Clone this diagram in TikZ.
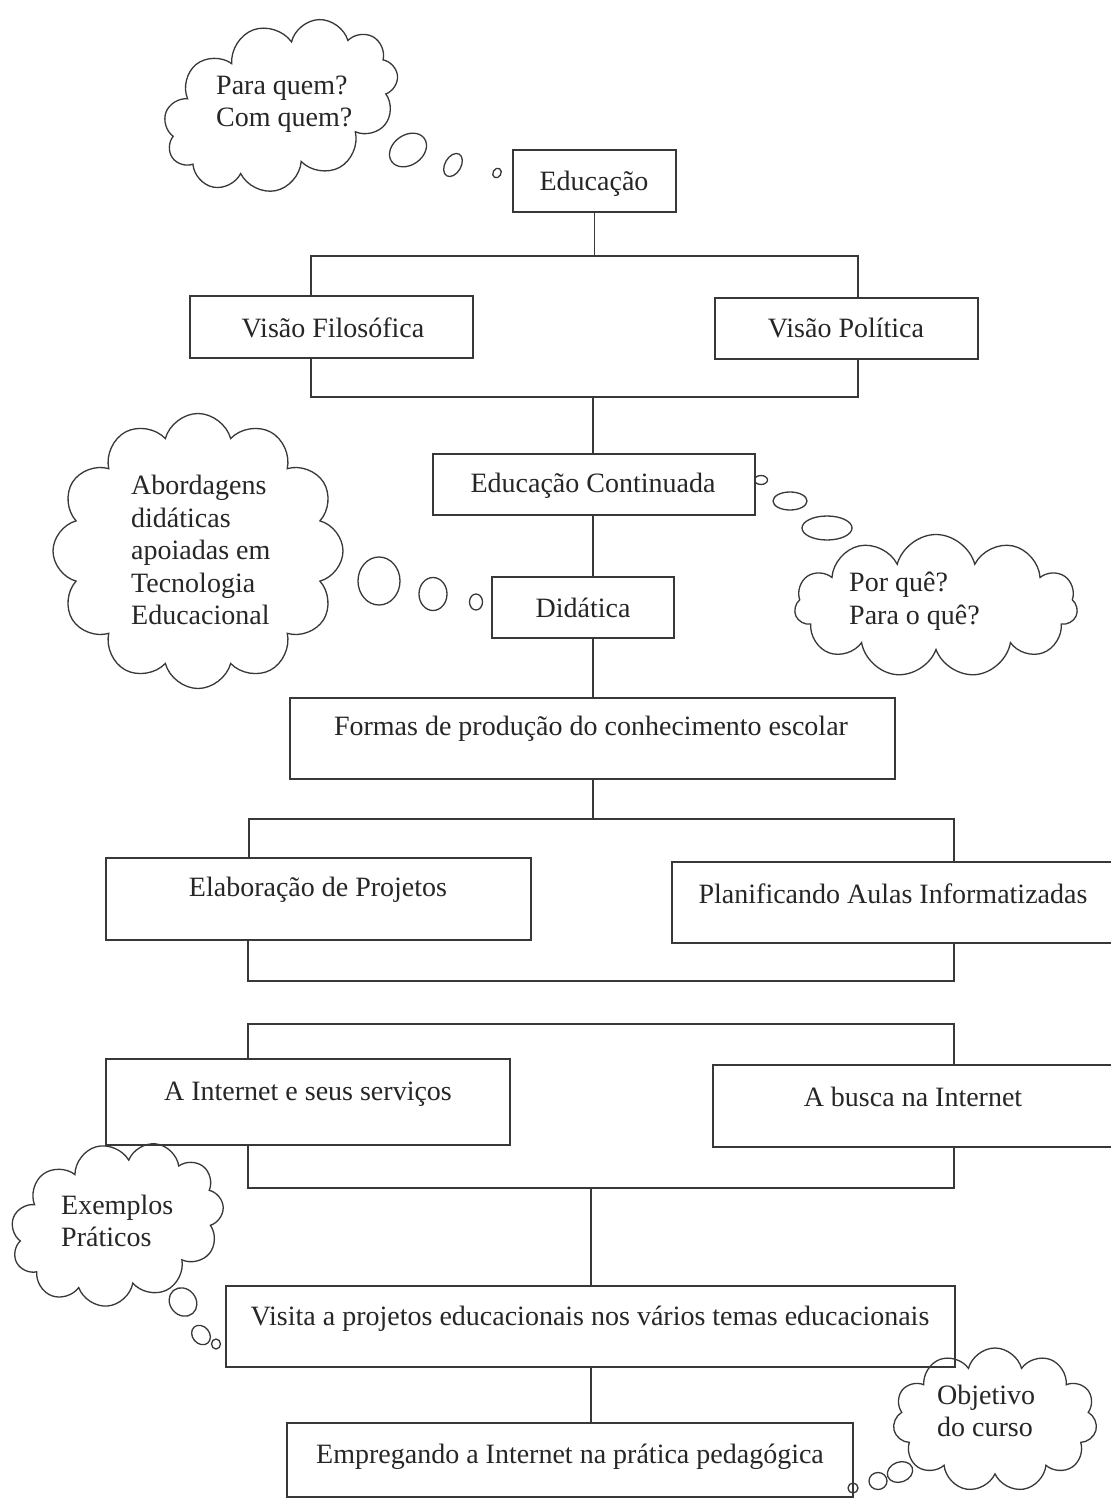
\documentclass[tikz,border=0pt]{standalone}
\usepackage{fontspec}
\setmainfont{Liberation Serif}
\usetikzlibrary{shapes.symbols,shapes.geometric}
\newcommand\mkbox[5]{\node[box, minimum width={#4-#2}, minimum height={#5-#3}] (#1) at ({(#2+#4)/2},{(#3+#5)/2}) {};}
\begin{document}
\begin{tikzpicture}[x=1pt,y=-1pt,
  wire/.style={draw=black!78, line width=1.3pt},
  box/.style={wire, rectangle, inner sep=0pt},
  txt/.style={font=\fontsize{28}{32.5}\selectfont, text=black!85, inner sep=0pt, align=left},
  cld/.style={wire, cloud, cloud puffs=11, cloud ignores aspect, inner sep=0pt},
  bub/.style={wire, ellipse, inner sep=0pt}]
\useasboundingbox[fill=white] (0,0) rectangle (1110,1503);

% boxes
\mkbox{educ}{513}{150}{676}{212}
\mkbox{vf}{190}{296}{473}{358}
\mkbox{vp}{715}{298}{978}{359}
\mkbox{ec}{433}{454}{755}{515}
\mkbox{did}{492}{577}{674}{638}
\mkbox{formas}{290}{698}{895}{779}
\mkbox{elab}{106}{858}{531}{940}
\mkbox{plan}{672}{862}{1116}{943}
\mkbox{inet}{106}{1059}{510}{1145}
\mkbox{busca}{713}{1065}{1116}{1147}
\mkbox{visita}{226}{1286}{955}{1367}
\mkbox{empreg}{287}{1423}{853}{1497}

% box texts
\node[txt] (t-educ) at (594,184) {Educação};
\node[txt] (t-vf) at (333,328) {Visão Filosófica};
\node[txt] (t-vp) at (846,328) {Visão Política};
\node[txt] (t-ec) at (593,486) {Educação Continuada};
\node[txt] (t-did) at (583,608) {Didática};
\node[txt] (t-formas) at (591,729) {Formas de produção do conhecimento escolar};
\node[txt] (t-elab) at (318,890) {Elaboração de Projetos};
\node[txt] (t-plan) at (893,894) {Planificando Aulas Informatizadas};
\node[txt] (t-inet) at (308,1094) {A Internet e seus serviços};
\node[txt] (t-busca) at (913,1097) {A busca na Internet};
\node[txt] (t-visita) at (590,1319) {Visita a projetos educacionais nos vários temas educacionais};
\node[txt] (t-empreg) at (570,1457) {Empregando a Internet na prática pedagógica};

% connectors
\coordinate (b1l) at (311,256); \coordinate (b1r) at (858,256);
\coordinate (b2l) at (311,397); \coordinate (b2r) at (858,397);
\coordinate (m1) at (593,397);
\coordinate (b3l) at (249,819); \coordinate (b3r) at (954,819);
\coordinate (b4l) at (248,981); \coordinate (b4r) at (954,981);
\coordinate (b5l) at (248,1024); \coordinate (b5r) at (954,1024);
\coordinate (b6l) at (248,1188); \coordinate (b6r) at (954,1188);
\coordinate (m6) at (591,1188);

\draw[wire] (educ.south) -- (educ.south |- b1l);
\draw[wire] (vf.north -| b1l) -- (b1l) -- (b1r) -- (vp.north -| b1r);
\draw[wire] (vf.south -| b2l) -- (b2l) -- (b2r) -- (vp.south -| b2r);
\draw[wire] (m1) -- (ec.north -| m1);
\draw[wire] (ec.south -| m1) -- (did.north -| m1);
\draw[wire] (did.south -| m1) -- (formas.north -| m1);
\draw[wire] (formas.south -| m1) -- (m1 |- b3l);
\draw[wire] (elab.north -| b3l) -- (b3l) -- (b3r) -- (plan.north -| b3r);
\draw[wire] (elab.south -| b4l) -- (b4l) -- (b4r) -- (plan.south -| b4r);
\draw[wire] (inet.north -| b5l) -- (b5l) -- (b5r) -- (busca.north -| b5r);
\draw[wire] (inet.south -| b6l) -- (b6l) -- (b6r) -- (busca.south -| b6r);
\draw[wire] (m6) -- (visita.north -| m6);
\draw[wire] (visita.south -| m6) -- (empreg.north -| m6);

% cloud 1
\node[cld, minimum width=242, minimum height=162, rotate=20] (c1) at (281,106) {};
\node[txt, anchor=west] (t-c1) at (216,104) {Para quem?\\Com quem?};
\node[bub, minimum width=40, minimum height=30, rotate=35] (c1a) at (408,150) {};
\node[bub, minimum width=16, minimum height=25, rotate=-30] (c1b) at (453,165) {};
\node[bub, minimum width=8, minimum height=10, rotate=-30] (c1c) at (497,173) {};

% cloud 2
\node[cld, cloud puffs=12, minimum width=290, minimum height=275] (c2) at (198,551) {};
\node[txt, anchor=west] (t-c2) at (131,550) {Abordagens\\didáticas\\apoiadas em\\Tecnologia\\Educacional};
\node[bub, minimum width=42, minimum height=48] (c2a) at (379,581) {};
\node[bub, minimum width=28, minimum height=33] (c2b) at (433,594) {};
\node[bub, minimum width=13, minimum height=16] (c2c) at (476,602) {};

% cloud 3
\node[cld, minimum width=283, minimum height=143] (c3) at (936,606) {};
\node[txt, anchor=west] (t-c3) at (849,601) {Por quê?\\Para o quê?};
\node[bub, minimum width=13, minimum height=9] (c3a) at (761,480) {};
\node[bub, minimum width=34, minimum height=18] (c3b) at (790,501) {};
\node[bub, minimum width=50, minimum height=24] (c3c) at (827,528) {};

% cloud 4
\node[cld, minimum width=216, minimum height=160, rotate=15] (c4) at (117,1224) {};
\node[txt, anchor=west] (t-c4) at (61,1221) {Exemplos\\Práticos};
\node[bub, minimum width=26, minimum height=30, rotate=40] (c4a) at (183,1302) {};
\node[bub, minimum width=17, minimum height=21, rotate=40] (c4b) at (201,1335) {};
\node[bub, minimum width=9, minimum height=10] (c4c) at (216,1344) {};

% cloud 5
\node[cld, minimum width=204, minimum height=144] (c5) at (995,1420) {};
\node[txt, anchor=west] (t-c5) at (937,1411) {Objetivo\\do curso};
\node[bub, minimum width=26, minimum height=20, rotate=20] (c5a) at (900,1472) {};
\node[bub, minimum width=18, minimum height=17] (c5b) at (878,1481) {};
\node[bub, minimum width=10, minimum height=10] (c5c) at (853,1488) {};
\end{tikzpicture}
\end{document}
